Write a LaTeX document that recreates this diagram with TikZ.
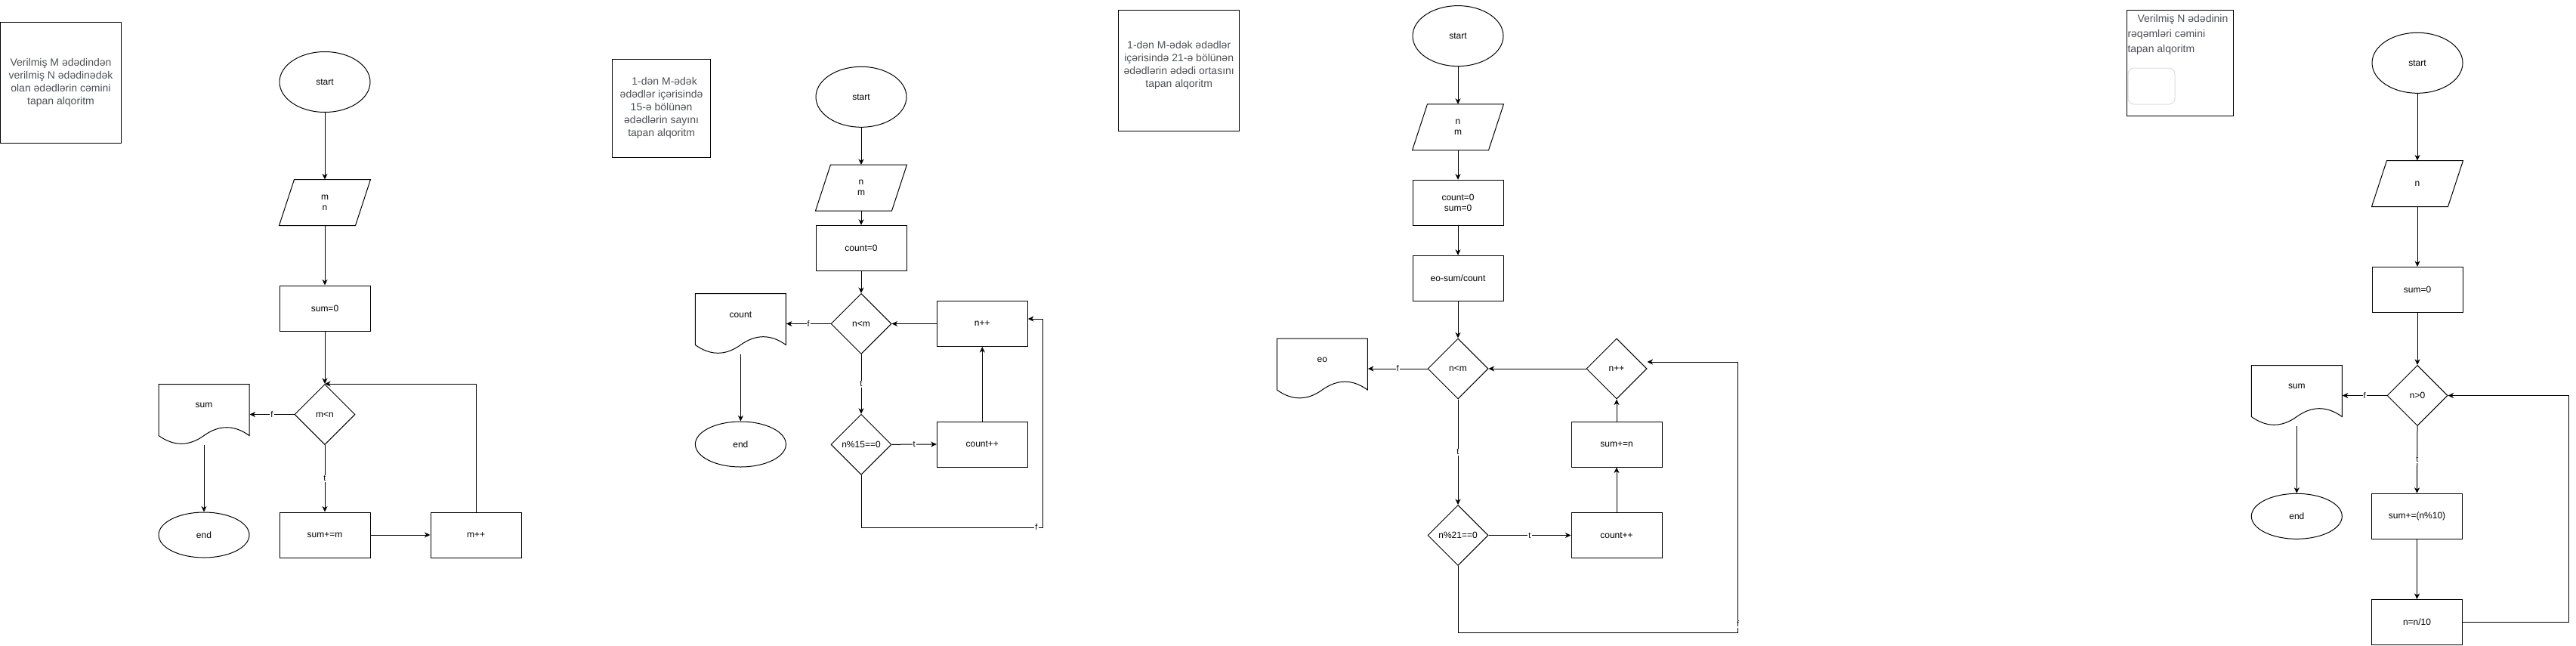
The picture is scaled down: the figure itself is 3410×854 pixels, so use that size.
\documentclass[tikz,border=0pt]{standalone}
\usepackage{fontspec}
\setmainfont{Liberation Sans}
\usepackage{xcolor}
\usepackage{tikz}
\usetikzlibrary{arrows.meta, shapes.geometric}
\definecolor{title_text}{RGB}{77, 81, 86}
\definecolor{title_frame}{RGB}{218, 220, 224}

% outline of an input box (parallelogram)
\newcommand{\ioshape}[1]{%
  \draw ([xshift=20pt]#1.north west) -- (#1.north east)
    -- ([xshift=-20pt]#1.south east) -- (#1.south west) -- cycle;}
% outline of an output box (document with wavy bottom)
\newcommand{\docshape}[1]{%
  \draw ([shift={(-60,40)}]#1.center) -- ([shift={(60,40)}]#1.center)
    -- ([shift={(60,-28)}]#1.center)
    .. controls ([shift={(40,-13.6)}]#1.center) and ([shift={(20,-13.6)}]#1.center) .. ([shift={(0,-28)}]#1.center)
    .. controls ([shift={(-20,-42.4)}]#1.center) and ([shift={(-40,-42.4)}]#1.center) .. ([shift={(-60,-28)}]#1.center)
    -- cycle;}
\newcommand{\docup}[1]{\raisebox{12pt}[\height][\depth]{#1}}

\tikzset{
  flow/.style={font=\fontsize{12}{14.4}\selectfont, align=center, inner sep=1pt},
  term/.style={flow, draw, ellipse, minimum width=120pt, minimum height=80pt},
  termend/.style={term, minimum height=60pt},
  proc/.style={flow, draw, rectangle, minimum width=120pt, minimum height=60pt},
  io/.style={flow, rectangle, minimum width=120pt, minimum height=60pt},
  dec/.style={flow, draw, diamond, minimum width=80pt, minimum height=80pt},
  doc/.style={flow, rectangle, minimum width=120pt, minimum height=80pt},
  title/.style={draw, rectangle, font=\fontsize{14}{17}\selectfont, text=title_text, align=center, inner sep=0pt},
  arr/.style={-{Stealth[length=7.5pt, width=7pt, inset=2.2pt]}},
  lbl/.style={fill=white, font=\fontsize{11}{13}\selectfont, inner sep=1pt},
}

\begin{document}
\begin{tikzpicture}[x=1pt, y=1pt, line width=1pt]
  \useasboundingbox (0,0) rectangle (3410,-854);

  % Chart 1 : sum from M to N
  \node[title, minimum width=160pt, minimum height=160pt] (ttl1) at (80.5,-109.5)
    {Verilmiş M ədədindən\\verilmiş N ədədinədək\\olan ədədlərin cəmini\\tapan alqoritm};
  \node[term] (st1) at (430,-108.5) {start};
  \node[io] (in1) at (430,-268) {m\\n}; \ioshape{in1}
  \node[proc] (p1) at (430,-408) {sum=0};
  \node[dec] (d1) at (430,-548.5) {m<n};
  \node[doc] (out1) at (270,-548.5) {\docup{sum}}; \docshape{out1}
  \node[termend] (en1) at (270,-708) {end};
  \node[proc] (s1) at (430,-708) {sum+=m};
  \node[proc] (inc1) at (630,-708) {m++};
  \draw[arr] (st1) -- (in1);
  \draw[arr] (in1) -- (p1);
  \draw[arr] (p1) -- (d1);
  \draw[arr] (d1.west) -- node[lbl] (f1) {f} (out1.east);
  \draw[arr] (d1.south) -- node[lbl] (t1) {t} (s1.north);
  \draw[arr] (s1) -- (inc1);
  \draw[arr] (inc1.north) |- (d1.north);
  \draw[arr] (out1.south) -- (en1.north);

  % Chart 2 : count of multiples of 15
  \node[title, minimum width=130pt, minimum height=130pt] (ttl2) at (875.6,-143.2)
    {\hspace*{8pt}1-dən M-ədək\\ədədlər içərisində\\15-ə bölünən\\ədədlərin sayını\\tapan alqoritm};
  \node[term] (st2) at (1140,-128.3) {start};
  \node[io] (in2) at (1140,-248.5) {n\\m}; \ioshape{in2}
  \node[proc] (p2) at (1140,-328.3) {count=0};
  \node[dec] (d2) at (1140,-428.5) {n<m};
  \node[doc] (out2) at (980.4,-428.5) {\docup{count}}; \docshape{out2}
  \node[termend] (en2) at (980.4,-588) {end};
  \node[dec] (d3) at (1140,-588.3) {n\%15==0};
  \node[proc] (s2) at (1300.3,-588) {count++};
  \node[proc] (inc2) at (1300.3,-428.5) {n++};
  \coordinate (lp2) at (1380,-698);
  \draw[arr] (st2) -- (in2);
  \draw[arr] (in2) -- (p2);
  \draw[arr] (p2) -- (d2);
  \draw[arr] (d2.west) -- node[lbl] (f2) {f} (out2.east);
  \draw[arr] (d2.south) -- node[lbl] (t2) {t} (d3.north);
  \draw[arr] (d3.east) -- node[lbl] (t3) {t} (s2.west);
  \draw[arr] (s2.north) -- (inc2.south);
  \draw[arr] (inc2.west) -- (d2.east);
  \draw[arr] (d3.south) |- (lp2) |- ([yshift=6.5pt]inc2.east);
  \node[lbl] (f3) at (1372,-698) {f};
  \draw[arr] (out2.south) -- (en2.north);

  % Chart 3 : mean of multiples of 21
  \node[title, minimum width=160pt, minimum height=160pt] (ttl3) at (1560.7,-93.4)
    {1-dən M-ədək ədədlər\\içərisində 21-ə bölünən\\ədədlərin ədədi ortasını\\tapan alqoritm\\\mbox{}};
  \node[term] (st3) at (1930,-47.6) {start};
  \node[io] (in3) at (1930,-168.3) {n\\m}; \ioshape{in3}
  \node[proc] (p3) at (1930,-268.3) {count=0\\sum=0};
  \node[proc] (p4) at (1930,-368.3) {eo-sum/count};
  \node[dec] (d4) at (1930,-488) {n<m};
  \node[doc] (out3) at (1750.3,-488) {\docup{eo}}; \docshape{out3}
  \node[dec] (d5) at (2140,-488) {n++};
  \node[proc] (s3) at (2140,-588) {sum+=n};
  \node[proc] (s4) at (2140,-708.5) {count++};
  \node[dec] (d6) at (1930,-708.5) {n\%21==0};
  \coordinate (lp3) at (2300.6,-837.6);
  \draw[arr] (st3) -- (in3);
  \draw[arr] (in3) -- (p3);
  \draw[arr] (p3) -- (p4);
  \draw[arr] (p4) -- (d4);
  \draw[arr] (d4.west) -- node[lbl] (f4) {f} (out3.east);
  \draw[arr] (d4.south) -- node[lbl] (t4) {t} (d6.north);
  \draw[arr] (d6.east) -- node[lbl] (t5) {t} (s4.west);
  \draw[arr] (s4.north) -- (s3.south);
  \draw[arr] (s3.north) -- (d5.south);
  \draw[arr] (d5.west) -- (d4.east);
  \draw[arr] (d6.south) |- (lp3) |- ([yshift=9pt]d5.east);
  \node[lbl] (f5) at (2300.6,-826) {f};

  % Chart 4 : digit sum of N
  \node[draw, rectangle, minimum width=141pt, minimum height=140pt, inner sep=0pt] (ttl4) at (2885.5,-83.5) {};
  \node[font=\fontsize{14}{20}\selectfont, text=title_text, align=left, inner sep=0pt, anchor=north west] (ttx4) at (2816,-18.5)
    {\hspace*{13pt}Verilmiş N ədədinin\\rəqəmləri cəmini\\tapan alqoritm};
  \node[draw=title_frame, rounded corners=8pt, minimum width=62pt, minimum height=48pt, inner sep=0pt] (gbox4) at (2848,-114) {};
  \node[term] (st4) at (3200,-83.3) {start};
  \node[io] (in4) at (3200,-243) {n}; \ioshape{in4}
  \node[proc] (p5) at (3200,-383.4) {sum=0};
  \node[dec] (d7) at (3200,-523.5) {n>0};
  \node[doc] (out4) at (3040.3,-523.5) {\docup{sum}}; \docshape{out4}
  \node[termend] (en4) at (3040.3,-683.3) {end};
  \node[proc] (s5) at (3199.5,-683.3) {sum+=(n\%10)};
  \node[proc] (s6) at (3199.5,-823.5) {n=n/10};
  \coordinate (lp4) at (3400.8,-823.5);
  \draw[arr] (st4) -- (in4);
  \draw[arr] (in4) -- (p5);
  \draw[arr] (p5) -- (d7);
  \draw[arr] (d7.west) -- node[lbl] (f6) {f} (out4.east);
  \draw[arr] (d7.south) -- node[lbl] (t6) {t} (s5.north);
  \draw[arr] (s5) -- (s6);
  \draw[arr] (s6.east) -- (lp4) |- (d7.east);
  \draw[arr] (out4.south) -- (en4.north);
\end{tikzpicture}
\end{document}
